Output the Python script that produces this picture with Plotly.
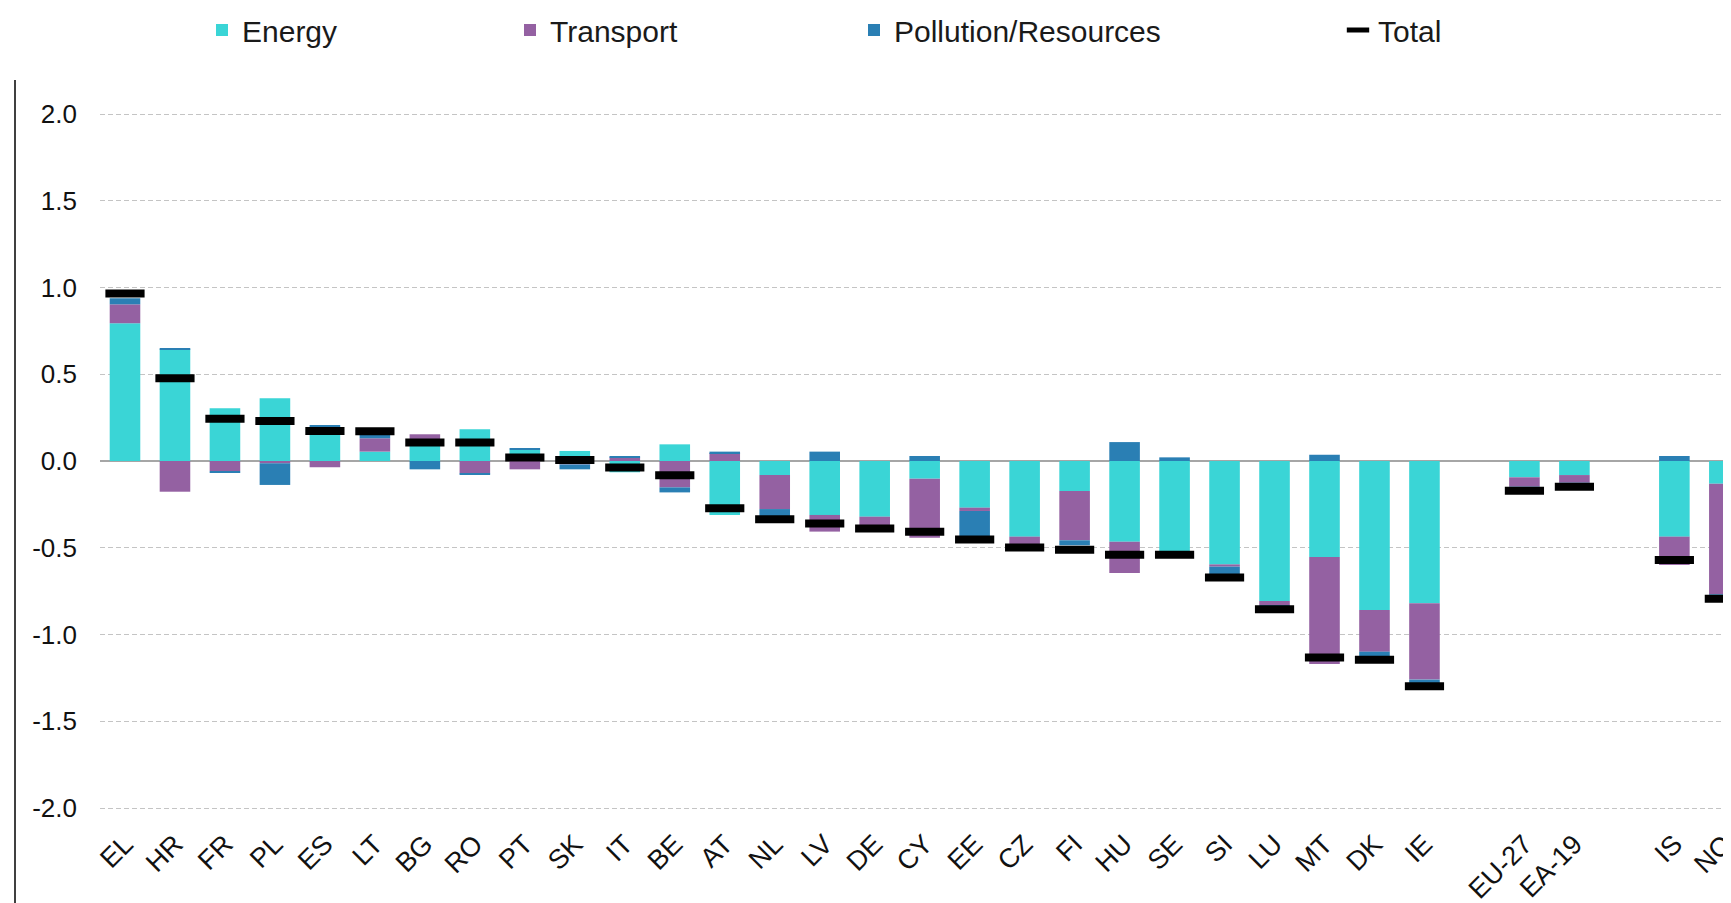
import plotly.graph_objects as go

# ---------------- data ----------------
countries = ["EL", "HR", "FR", "PL", "ES", "LT", "BG", "RO", "PT", "SK", "IT", "BE", "AT", "NL",
             "LV", "DE", "CY", "EE", "CZ", "FI", "HU", "SE", "SI", "LU", "MT", "DK", "IE"]
aggregates = ["EU-27", "EA-19"]
others = ["IS", "NO"]

energy = [0.794, 0.644, 0.304, 0.361, 0.198, 0.054, 0.100, 0.183, 0.064, 0.058, -0.065, 0.096, -0.311, -0.081,
          -0.311, -0.321, -0.102, -0.269, -0.436, -0.173, -0.465, -0.530, -0.596, -0.807, -0.553, -0.859, -0.820,
          -0.094, -0.081,
          -0.436, -0.131]
transport = [0.109, -0.177, -0.058, -0.013, -0.036, 0.077, 0.054, -0.071, -0.048, -0.020, 0.021, -0.152, 0.046, -0.196,
             -0.096, -0.065, -0.340, -0.019, -0.050, -0.284, -0.181, -0.025, -0.013, -0.023, -0.617, -0.240, -0.440,
             -0.054, -0.044,
             -0.163, -0.637]
pollution = [0.035, 0.006, -0.007, -0.125, 0.008, 0.020, -0.048, -0.008, 0.009, -0.028, 0.008, -0.029, 0.008, -0.060,
             0.054, -0.005, 0.029, -0.157, -0.013, -0.029, 0.109, 0.021, -0.052, -0.020, 0.036, -0.045, -0.035,
             -0.020, -0.020,
             0.029, -0.030]
total = [0.965, 0.477, 0.244, 0.230, 0.173, 0.172, 0.107, 0.107, 0.020, 0.006, -0.037, -0.082, -0.272, -0.336,
         -0.360, -0.389, -0.408, -0.452, -0.499, -0.512, -0.541, -0.541, -0.672, -0.854, -1.133, -1.145, -1.298,
         -0.171, -0.149,
         -0.571, -0.794]

y_tick_vals = [-2.0, -1.5, -1.0, -0.5, 0.0, 0.5, 1.0, 1.5, 2.0]
y_tick_text = ["-2.0", "-1.5", "-1.0", "-0.5", "0.0", "0.5", "1.0", "1.5", "2.0"]

# ---------------- layout constants (page px; page has an 8px body margin) ----------------
OFF = 8
W, H = 1731 - OFF, 903 - OFF            # figure size
PL, PT, PB = 100 - OFF, 80 - OFF, 815 - OFF   # plot area left / top / bottom in figure px
PX_PER_UNIT = 173.5
ZERO_Y = 461 - OFF
Y_TOP = (ZERO_Y - PT) / PX_PER_UNIT
Y_BOT = (ZERO_Y - PB) / PX_PER_UNIT
SLOT = 49.98

# category positions with a blank slot between groups
labels, xpos = [], []
pos = 0
for group in (countries, aggregates, others):
    for name in group:
        labels.append(name)
        xpos.append(pos)
        pos += 1
    pos += 1

PW = W - PL
PH = PB - PT
x_right = PW / SLOT - 0.5

C_ENERGY = "#3AD5D6"
C_TRANSPORT = "#9461A2"
C_POLLUTION = "#2A7FB4"

fig = go.Figure()
fig.add_trace(go.Bar(x=xpos, y=energy, name="Energy", marker=dict(color=C_ENERGY, line=dict(width=0)),
                     legend="legend"))
fig.add_trace(go.Bar(x=xpos, y=transport, name="Transport", marker=dict(color=C_TRANSPORT, line=dict(width=0)),
                     legend="legend2"))
fig.add_trace(go.Bar(x=xpos, y=pollution, name="Pollution/Resources",
                     marker=dict(color=C_POLLUTION, line=dict(width=0)), legend="legend3"))
fig.add_trace(go.Scatter(x=xpos, y=total, name="Total", mode="markers",
                         marker=dict(symbol="line-ew", size=28, color="black",
                                     line=dict(width=8, color="black")),
                         legend="legend4"))

leg_font = dict(family="Liberation Sans, Arial", size=30, color="#1a1a1a")
leg_common = dict(orientation="h", yanchor="middle", xanchor="left", y=(PB - (30 - OFF)) / PH,
                  font=leg_font, bgcolor="rgba(0,0,0,0)", itemwidth=30)


def leg(page_px):
    d = dict(leg_common)
    d["x"] = (page_px - OFF - PL) / PW
    return d


fig.update_layout(
    width=W, height=H,
    margin=dict(l=PL, r=W - PL - PW, t=PT, b=H - PB, autoexpand=False),
    paper_bgcolor="white", plot_bgcolor="white",
    barmode="relative", bargap=0.388,
    font=dict(family="Liberation Sans, Arial", size=26, color="#111111"),
    showlegend=True,
    legend=leg(202), legend2=leg(510), legend3=leg(854), legend4=leg(1338),
    xaxis=dict(range=[-0.5, x_right], tickmode="array", tickvals=xpos, ticktext=labels,
               tickangle=-45, showgrid=False, zeroline=False, showline=False, ticks="",
               tickfont=dict(size=27, color="#111111"), automargin=False, ticklabelstandoff=7,
               ticklabeloverflow="allow"),
    yaxis=dict(range=[Y_BOT, Y_TOP], tickmode="array", tickvals=y_tick_vals, ticktext=y_tick_text,
               showgrid=True, gridcolor="#C4C4C4", gridwidth=1, griddash="5px,3px",
               zeroline=True, zerolinecolor="#A6A6A6", zerolinewidth=1.5,
               showline=False, ticks="", tickfont=dict(size=26, color="#111111"),
               automargin=False, ticklabelstandoff=22),
)

# vertical axis line at the far left
fig.add_shape(type="line", xref="paper", yref="paper",
              x0=(15 - OFF - PL) / PW, x1=(15 - OFF - PL) / PW, y0=1.0, y1=(PB - H - 5) / PH,
              line=dict(color="black", width=1.5))

fig.write_html("out.html")
